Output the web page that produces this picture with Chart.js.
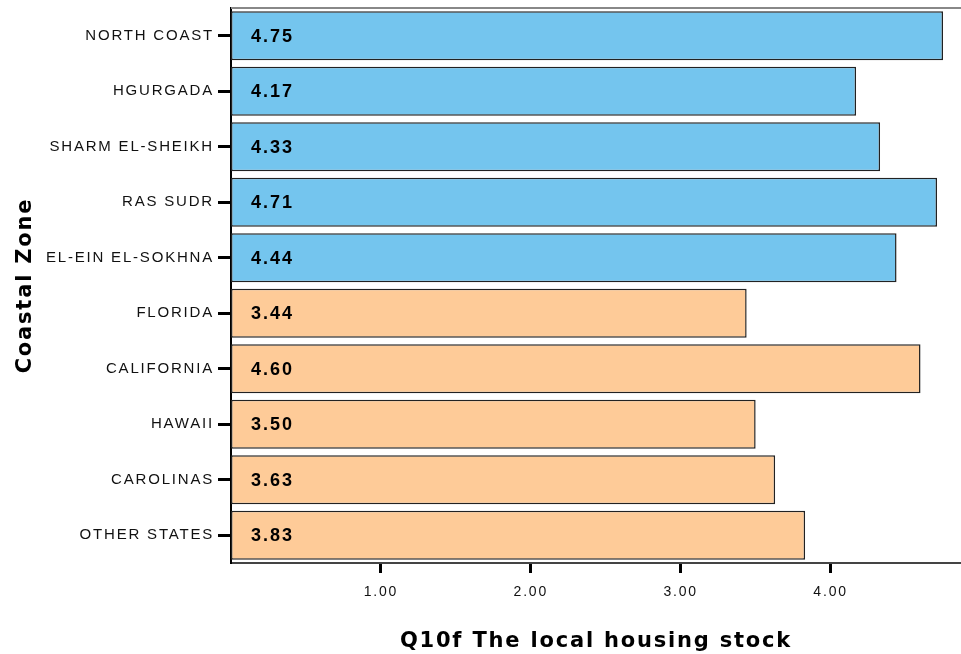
<!DOCTYPE html>
<html>
<head>
<meta charset="utf-8">
<script src="https://cdn.jsdelivr.net/npm/chart.js@4"></script>
<style>
  body { margin: 0; background: #fff; }
  #wrap { width: 961px; height: 654px; }
</style>
</head>
<body>
<div id="wrap"><canvas id="zoneChart"></canvas></div>
<script>
const zones = ['NORTH COAST', 'HGURGADA', 'SHARM EL-SHEIKH', 'RAS SUDR', 'EL-EIN EL-SOKHNA',
               'FLORIDA', 'CALIFORNIA', 'HAWAII', 'CAROLINAS', 'OTHER STATES'];
const means = [4.75, 4.17, 4.33, 4.71, 4.44, 3.44, 4.60, 3.50, 3.63, 3.83];
const country = ['EG', 'EG', 'EG', 'EG', 'EG', 'US', 'US', 'US', 'US', 'US'];
const xTicks = [1, 2, 3, 4];

const fill = { EG: '#74C5EE', US: '#FECB98' };

// spss-like wide letter spacing on all text
const spacing = {
  id: 'spacing',
  beforeDraw(chart) { chart.ctx.letterSpacing = '1.8px'; },
  afterDraw(chart) { chart.ctx.letterSpacing = '0px'; }
};

// mean value written at the start of every bar
const barLabels = {
  id: 'barLabels',
  afterDatasetsDraw(chart) {
    const ctx = chart.ctx;
    const meta = chart.getDatasetMeta(0);
    ctx.save();
    ctx.letterSpacing = '2px';
    ctx.font = 'bold 18px "Liberation Sans", Arial, sans-serif';
    ctx.fillStyle = '#000';
    ctx.textAlign = 'left';
    ctx.textBaseline = 'middle';
    meta.data.forEach((bar, i) => {
      ctx.fillText(means[i].toFixed(2), bar.base + 20, bar.y + 1);
    });
    ctx.restore();
  }
};

// grey top frame line
const frame = {
  id: 'frame',
  afterDraw(chart) {
    const { ctx, chartArea: a } = chart;
    ctx.save();
    ctx.strokeStyle = '#888';
    ctx.lineWidth = 2;
    ctx.beginPath();
    ctx.moveTo(a.left, a.top);
    ctx.lineTo(a.right, a.top);
    ctx.stroke();
    ctx.restore();
  }
};

const noPad = s => { s.paddingTop = 0; s.paddingBottom = 0; s.paddingLeft = 0; s.paddingRight = 0; };

const ctx = document.getElementById('zoneChart').getContext('2d');
Chart.defaults.font.family = '"Liberation Sans", Arial, sans-serif';
Chart.defaults.color = '#111';

new Chart(ctx, {
  type: 'bar',
  data: {
    labels: zones,
    datasets: [{
      data: means,
      backgroundColor: country.map(c => fill[c]),
      borderColor: '#222',
      borderWidth: 1.5,
      borderSkipped: false,
      barPercentage: 0.885,
      categoryPercentage: 1
    }]
  },
  options: {
    indexAxis: 'y',
    responsive: true,
    maintainAspectRatio: false,
    animation: false,
    layout: { padding: { top: 8, right: 0, left: 0, bottom: 0 } },
    plugins: {
      legend: { display: false },
      tooltip: { enabled: false }
    },
    scales: {
      x: {
        min: 0,
        max: 4.87,
        afterBuildTicks: s => { s.ticks = xTicks.map(v => ({ value: v })); },
        afterFit: s => { s.height = 91; noPad(s); },
        grid: {
          drawOnChartArea: false,
          drawTicks: true,
          tickLength: 10,
          tickWidth: 3,
          tickColor: '#000'
        },
        border: { color: '#444', width: 2 },
        ticks: {
          padding: 11,
          color: '#111',
          font: { size: 14 },
          callback: v => Number(v).toFixed(2)
        },
        title: {
          display: true,
          text: 'Q10f The local housing stock',
          color: '#000',
          font: { family: '"DejaVu Sans", Verdana, sans-serif', size: 21, weight: 'bold', lineHeight: 1.2 },
          padding: { top: 7, bottom: 0 }
        }
      },
      y: {
        afterFit: s => { s.width = 231; noPad(s); },
        grid: {
          offset: false,
          drawOnChartArea: false,
          drawTicks: true,
          tickLength: 13,
          tickWidth: 3,
          tickColor: '#000'
        },
        border: { color: '#000', width: 2 },
        ticks: {
          padding: 4,
          color: '#111',
          font: { size: 15 }
        },
        title: {
          display: true,
          text: 'Coastal Zone',
          color: '#000',
          font: { family: '"DejaVu Sans", Verdana, sans-serif', size: 21, weight: 'bold', lineHeight: 1.2 },
          padding: { top: 13, bottom: 0 }
        }
      }
    }
  },
  plugins: [spacing, barLabels, frame]
});
</script>
</body>
</html>
